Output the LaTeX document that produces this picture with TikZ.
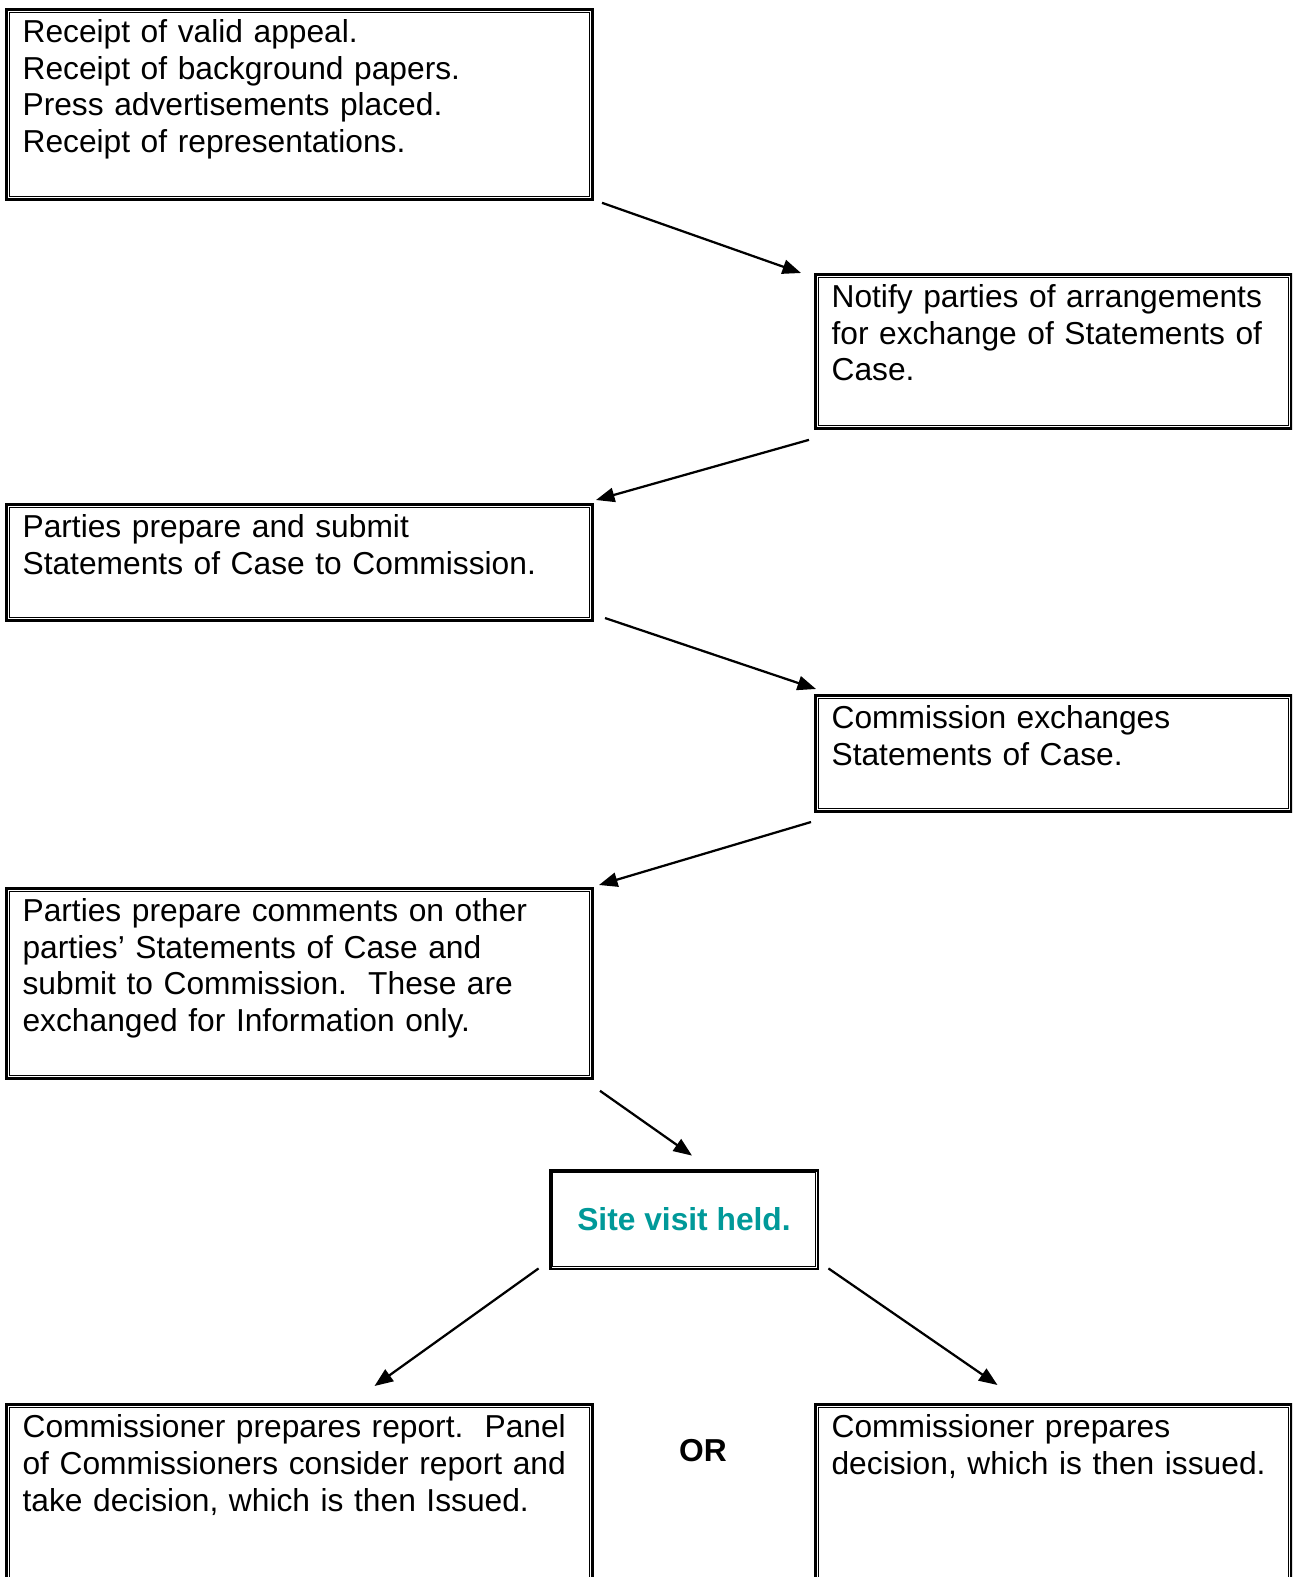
\documentclass[tikz,border=0pt]{standalone}
\usepackage{fontspec}
\setmainfont{Liberation Sans}
\usetikzlibrary{arrows.meta, positioning, calc}
\definecolor{SiteTeal}{HTML}{009999}
\definecolor{FrameBlack}{RGB}{0, 0, 0}

\tikzset{
  innerframe/.style={append after command={\pgfextra{\draw[line width=0.45pt, color=FrameBlack]
      ([shift={(1.6pt,-1.6pt)}]\tikzlastnode.north west) rectangle
      ([shift={(-1.6pt,1.6pt)}]\tikzlastnode.south east);}}},
  stepbox/.style={draw=FrameBlack, line width=1.1pt, anchor=north west, align=left,
    inner xsep=6.1pt, inner ysep=2pt, text height=10.6pt,
    font=\fontsize{12pt}{13.84pt}\selectfont, innerframe},
  widebox/.style={stepbox, text width=209.4pt},
  narrowbox/.style={stepbox, text width=167.8pt},
  sitebox/.style={draw=FrameBlack, line width=1.1pt, minimum width=101.3pt, minimum height=37.4pt,
    inner sep=0pt, font=\fontsize{12pt}{13.84pt}\selectfont\bfseries, text=SiteTeal, innerframe},
  flow/.style={line width=0.85pt, -{Triangle[length=7pt, width=5.4pt]}}
}

\begin{document}
\begin{tikzpicture}[x=0.3781pt, y=-0.3781pt]
    \useasboundingbox (0,0) rectangle (1292,1577);
    \clip (0,0) rectangle (1292,1577);

    % Left column: appeal received
    \node[widebox, text depth=57.2pt] (receipt) at (5,8) {Receipt of valid appeal.\\ Receipt of background papers.\\ Press advertisements placed.\\ Receipt of representations.};

    % Right column: notification
    \node[narrowbox, text depth=43.6pt] (notify) at (814,273) {Notify parties of arrangements\\ for exchange of Statements of\\ Case.};

    % Statements of Case
    \node[widebox, text depth=29.3pt] (submit) at (5,503) {Parties prepare and submit\\ Statements of Case to Commission.};
    \node[narrowbox, text depth=29.3pt] (exchange) at (814,694) {Commission exchanges\\ Statements of Case.};

    % Comments on other parties
    \node[widebox, text depth=57.2pt] (comments) at (5,887) {Parties prepare comments on other\\ parties’ Statements of Case and\\ submit to Commission.\ \ These are\\ exchanged for Information only.};

    % Site visit
    \node[sitebox] (site) at (684,1219.5) {Site visit held.};

    % Two outcomes
    \node[widebox, text depth=70pt] (report) at (5,1403) {Commissioner prepares report.\ \ Panel\\ of Commissioners consider report and\\ take decision, which is then Issued.};
    \node[font=\fontsize{12pt}{13.84pt}\selectfont\bfseries] (or) at (703,1451) {OR};
    \node[narrowbox, text depth=70pt] (decision) at (814,1403) {Commissioner prepares\\ decision, which is then issued.};

    % Connectors
    \draw[flow] ([shift={(8,2)}]receipt.south east) -- ([shift={(-13,0)}]notify.north west);
    \draw[flow] ([shift={(-5,10)}]notify.south west) -- ([shift={(2,-3)}]submit.north east);
    \draw[flow] ([shift={(11,-4)}]submit.south east) -- ([shift={(2,-5)}]exchange.north west);
    \draw[flow] ([shift={(-3,9)}]exchange.south west) -- ([shift={(5,-2)}]comments.north east);
    \draw[flow] ([shift={(6,11)}]comments.south east) -- ([shift={(8,-13)}]site.north);
    \draw[flow] ([shift={(-10,-2)}]site.south west) -- ([shift={(75,-17)}]report.north);
    \draw[flow] ([shift={(9,-2)}]site.south east) -- ([shift={(-56,-18)}]decision.north);
\end{tikzpicture}
\end{document}
